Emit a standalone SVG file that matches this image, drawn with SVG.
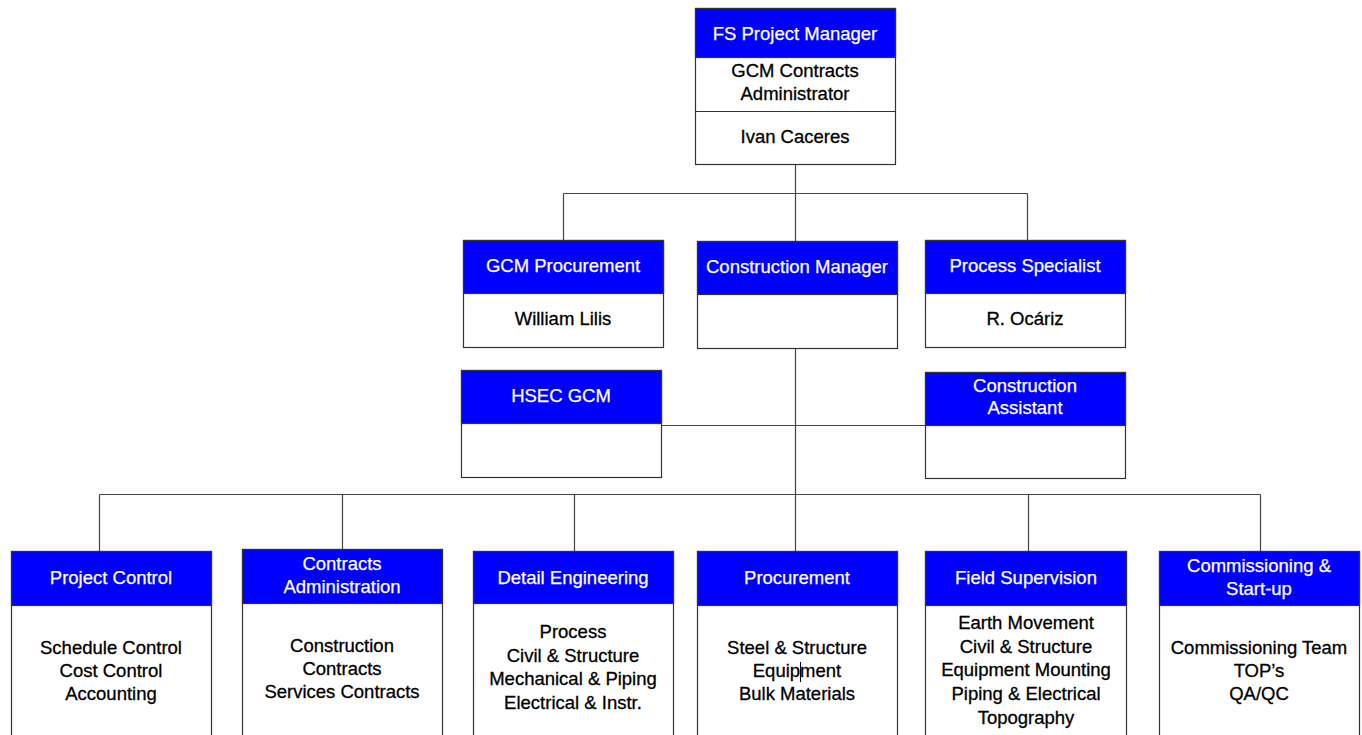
<svg xmlns="http://www.w3.org/2000/svg" width="1362" height="735" viewBox="0 0 1362 735">
<style>
.box{fill:#fff;stroke:#333;stroke-width:1.2}
.hd{fill:#0000ff;stroke:#333;stroke-width:1.2}
.sep{stroke:#333;stroke-width:1.2}
.ht{font-family:"Liberation Sans",Arial,sans-serif;font-size:18.5px;fill:#fff;text-anchor:middle;stroke:#fff;stroke-width:0.25}
.bt{font-family:"Liberation Sans",Arial,sans-serif;font-size:18.5px;fill:#000;text-anchor:middle;stroke:#000;stroke-width:0.3}
.ln{stroke:#444;stroke-width:1.2;fill:none}
</style>
<rect width="1362" height="735" fill="#fff"/>
<g id="connectors">
<path class="ln" d="M795.5 164V193.5M563.5 193.5H1027.5M563.5 193.5V240M795.5 193.5V241M1027.5 193.5V240"/>
<path class="ln" d="M795.5 348V551M661 425.5H925"/>
<path class="ln" d="M99.5 494.5H1260.5M99.5 494.5V551M342.5 494.5V549M574.5 494.5V551M1028.5 494.5V551M1260.5 494.5V551"/>
</g>
<g id="fs-project-manager">
<rect class="box" x="695.5" y="8.5" width="200" height="156"/>
<rect class="hd" x="695.5" y="8.5" width="200" height="49"/>
<line class="sep" x1="695.5" y1="111.5" x2="895.5" y2="111.5"/>
<text class="ht" x="795" y="40">FS Project Manager</text>
<text class="bt" x="795" y="77">GCM Contracts</text>
<text class="bt" x="795" y="100">Administrator</text>
<text class="bt" x="795" y="143">Ivan Caceres</text>
</g>
<g id="gcm-procurement">
<rect class="box" x="463.5" y="240.5" width="200" height="107"/>
<rect class="hd" x="463.5" y="240.5" width="200" height="53"/>
<text class="ht" x="563" y="272">GCM Procurement</text>
<text class="bt" x="563" y="325">William Lilis</text>
</g>
<g id="construction-manager">
<rect class="box" x="697.5" y="241.5" width="200" height="107"/>
<rect class="hd" x="697.5" y="241.5" width="200" height="53"/>
<text class="ht" x="797" y="273">Construction Manager</text>
</g>
<g id="process-specialist">
<rect class="box" x="925.5" y="240.5" width="200" height="107"/>
<rect class="hd" x="925.5" y="240.5" width="200" height="53"/>
<text class="ht" x="1025" y="272">Process Specialist</text>
<text class="bt" x="1025" y="325">R. Ocáriz</text>
</g>
<g id="hsec-gcm">
<rect class="box" x="461.5" y="370.5" width="200" height="107"/>
<rect class="hd" x="461.5" y="370.5" width="200" height="53"/>
<text class="ht" x="561" y="402">HSEC GCM</text>
</g>
<g id="construction-assistant">
<rect class="box" x="925.5" y="372.5" width="200" height="106"/>
<rect class="hd" x="925.5" y="372.5" width="200" height="53"/>
<text class="ht" x="1025" y="392">Construction</text>
<text class="ht" x="1025" y="414">Assistant</text>
</g>
<g id="project-control">
<rect class="box" x="11.5" y="551.5" width="200" height="210"/>
<rect class="hd" x="11.5" y="551.5" width="200" height="54"/>
<text class="ht" x="111" y="584">Project Control</text>
<text class="bt" x="111" y="654">Schedule Control</text>
<text class="bt" x="111" y="677">Cost Control</text>
<text class="bt" x="111" y="700">Accounting</text>
</g>
<g id="contracts-administration">
<rect class="box" x="242.5" y="549.5" width="200" height="210"/>
<rect class="hd" x="242.5" y="549.5" width="200" height="54"/>
<text class="ht" x="342" y="570">Contracts</text>
<text class="ht" x="342" y="593">Administration</text>
<text class="bt" x="342" y="652">Construction</text>
<text class="bt" x="342" y="675">Contracts</text>
<text class="bt" x="342" y="698">Services Contracts</text>
</g>
<g id="detail-engineering">
<rect class="box" x="473.5" y="551.5" width="200" height="210"/>
<rect class="hd" x="473.5" y="551.5" width="200" height="52"/>
<text class="ht" x="573" y="584">Detail Engineering</text>
<text class="bt" x="573" y="638">Process</text>
<text class="bt" x="573" y="662">Civil &amp; Structure</text>
<text class="bt" x="573" y="685">Mechanical &amp; Piping</text>
<text class="bt" x="573" y="709">Electrical &amp; Instr.</text>
</g>
<g id="procurement">
<rect class="box" x="697.5" y="551.5" width="200" height="210"/>
<rect class="hd" x="697.5" y="551.5" width="200" height="54"/>
<text class="ht" x="797" y="584">Procurement</text>
<text class="bt" x="797" y="654">Steel &amp; Structure</text>
<text class="bt" x="797" y="677">Equipment</text>
<text class="bt" x="797" y="700">Bulk Materials</text>
<line x1="800.5" y1="662" x2="800.5" y2="682" stroke="#000" stroke-width="1"/>
</g>
<g id="field-supervision">
<rect class="box" x="925.5" y="551.5" width="201" height="210"/>
<rect class="hd" x="925.5" y="551.5" width="201" height="54"/>
<text class="ht" x="1026" y="584">Field Supervision</text>
<text class="bt" x="1026" y="629">Earth Movement</text>
<text class="bt" x="1026" y="653">Civil &amp; Structure</text>
<text class="bt" x="1026" y="676">Equipment Mounting</text>
<text class="bt" x="1026" y="700">Piping &amp; Electrical</text>
<text class="bt" x="1026" y="724">Topography</text>
</g>
<g id="commissioning">
<rect class="box" x="1159.5" y="551.5" width="200" height="210"/>
<rect class="hd" x="1159.5" y="551.5" width="200" height="54"/>
<text class="ht" x="1259" y="572">Commissioning &amp;</text>
<text class="ht" x="1259" y="595">Start-up</text>
<text class="bt" x="1259" y="654">Commissioning Team</text>
<text class="bt" x="1259" y="677">TOP’s</text>
<text class="bt" x="1259" y="700">QA/QC</text>
</g>
</svg>
